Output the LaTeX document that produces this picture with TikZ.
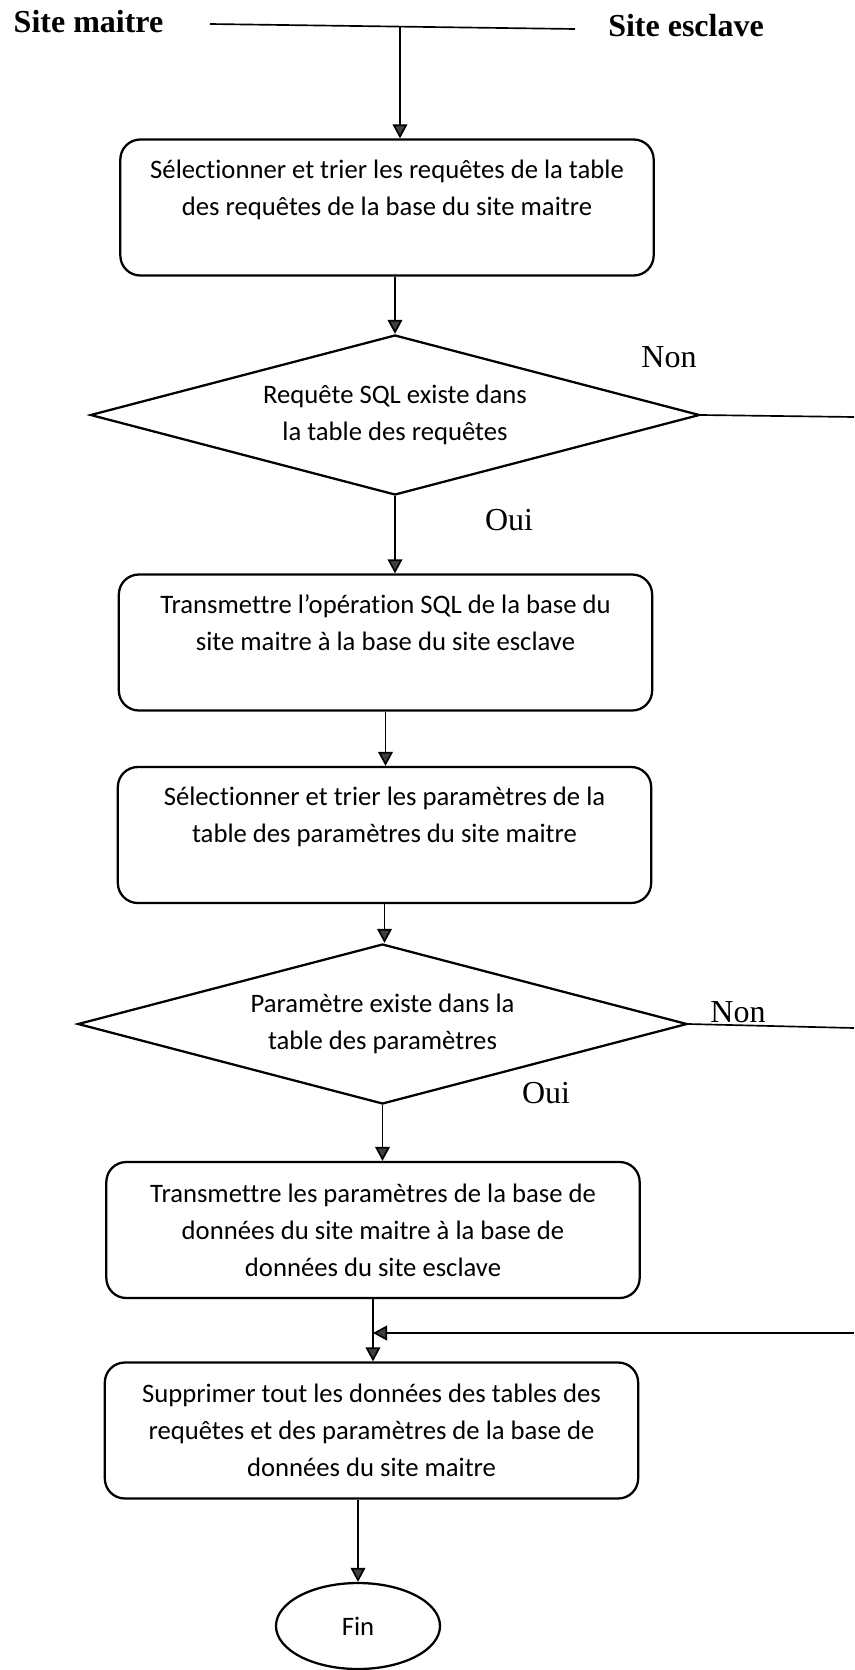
\documentclass[tikz,border=0pt]{standalone}
\usepackage{fontspec}
\setmainfont{Carlito}[Ligatures=NoCommon]
\newfontfamily\tnr{Liberation Serif}
\usetikzlibrary{shapes.geometric,arrows.meta}
\begin{document}
\begin{tikzpicture}[x=0.75pt,y=-0.75pt,
  boxtext/.style={font=\fontsize{20pt}{27.75pt}\selectfont},
  stepbox/.style={draw, line width=1.7pt, rounded corners=15pt, align=center,
    minimum width=400pt, minimum height=102pt, inner sep=2pt, boxtext},
  decision/.style={draw, line width=1.7pt, diamond, aspect=3.8, align=center,
    minimum width=457pt, minimum height=120pt, inner sep=0pt, boxtext},
  endnode/.style={draw, line width=1.7pt, ellipse, minimum width=123pt,
    minimum height=64.5pt, inner sep=0pt, boxtext},
  lbl/.style={font=\tnr\fontsize{24pt}{28pt}\selectfont, inner sep=0pt},
  hdr/.style={font=\tnr\bfseries\fontsize{24pt}{28pt}\selectfont, inner sep=0pt},
  conn/.style={line width=1.25pt},
  arr/.style={conn, -{Triangle[length=10.5pt,width=11pt,fill=black!75]}}]
\useasboundingbox (0,0) rectangle (854,1670);

% header
\node[hdr] (sm) at (88.5,21.5) {Site maitre};
\node[hdr] (se) at (686,26) {Site esclave};
\coordinate (hl) at (210,24);
\coordinate (hr) at (575,29);
\coordinate (ht) at (400,26.5);
\draw[conn] (hl) -- (hr);

% nodes
\node[stepbox] (b1) at (387,207.5) {Sélectionner et trier les requêtes de la table\\des requêtes de la base du site maitre\\[-6pt]\strut};
\node[decision] (d1) at (395,415) {Requête SQL existe dans\\la table des requêtes};
\node[stepbox] (b2) at (385.5,642.5) {Transmettre l’opération SQL de la base du\\site maitre à la base du site esclave\\[-6pt]\strut};
\node[stepbox] (b3) at (384.5,835) {Sélectionner et trier les paramètres de la\\table des paramètres du site maitre\\[-6pt]\strut};
\node[decision] (d2) at (382.5,1024) {Paramètre existe dans la\\table des paramètres};
\node[stepbox] (b4) at (373,1230) {Transmettre les paramètres de la base de\\données du site maitre à la base de\\données du site esclave};
\node[stepbox] (b5) at (371.5,1430.5) {Supprimer tout les données des tables des\\requêtes et des paramètres de la base de\\données du site maitre};
\node[endnode] (fin) at (358,1626) {Fin};

% labels
\node[lbl] (non1) at (669,357) {Non};
\node[lbl] (oui1) at (509,520) {Oui};
\node[lbl] (non2) at (738,1012) {Non};
\node[lbl] (oui2) at (546,1093) {Oui};

% right-side free ends
\coordinate (e1) at (854,417);
\coordinate (e2) at (854,1028);
\coordinate (e3) at (854,1333);

% connectors
\draw[arr] (ht) -- (ht |- b1.north);
\draw[arr] (b1.south -| d1.north) -- (d1.north);
\draw[arr] (d1.south) -- (d1.south |- b2.north);
\draw[arr] (b2.south) -- (b2.south |- b3.north);
\draw[arr] (b3.south) -- (b3.south |- d2.north);
\draw[arr] (d2.south) -- (d2.south |- b4.north);
\draw[arr] (b4.south) -- (b4.south |- b5.north);
\draw[arr] (b5.south -| fin.north) -- (fin.north);
\draw[conn] (d1.east) -- (e1);
\draw[conn] (d2.east) -- (e2);
\draw[arr] (e3) -- (e3 -| b4.south);
\end{tikzpicture}
\end{document}
